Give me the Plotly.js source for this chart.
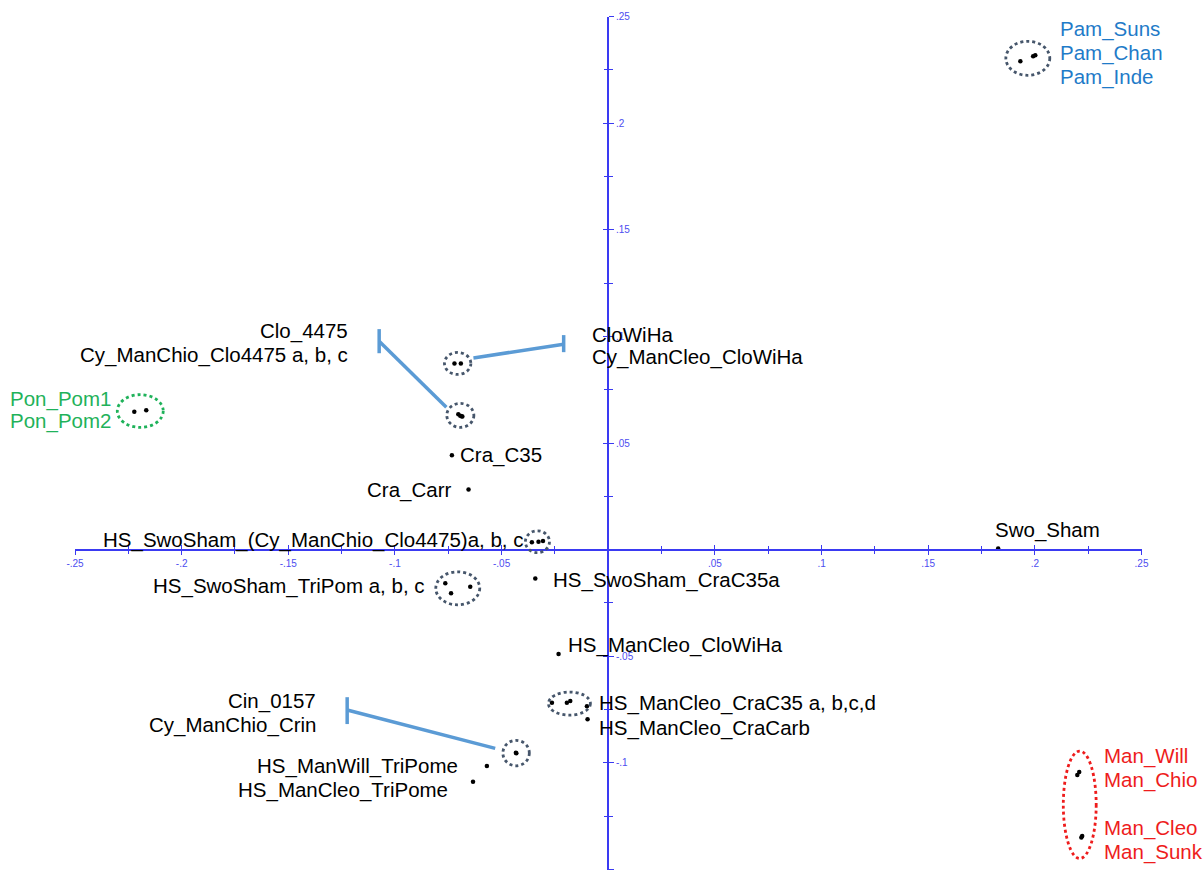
<!DOCTYPE html>
<html>
<head>
<meta charset="utf-8">
<script src="https://cdn.plot.ly/plotly-3.0.1.min.js"></script>
<style>html,body{margin:0;padding:0;background:#fff;}#chart{width:1204px;height:873px;}</style>
</head>
<body>
<div id="chart"></div>
<script>
// ---------- data ----------
const pointNames = [
  "Pam_Suns","Pam_Chan","Pam_Inde",
  "Pon_Pom1","Pon_Pom2",
  "CloWiHa","Cy_ManCleo_CloWiHa",
  "Clo_4475","Cy_ManChio_Clo4475 a","Cy_ManChio_Clo4475 b","Cy_ManChio_Clo4475 c",
  "Cra_C35","Cra_Carr","Swo_Sham",
  "HS_SwoSham_(Cy_ManChio_Clo4475)a","HS_SwoSham_(Cy_ManChio_Clo4475)b","HS_SwoSham_(Cy_ManChio_Clo4475)c",
  "HS_SwoSham_TriPom a","HS_SwoSham_TriPom b","HS_SwoSham_TriPom c",
  "HS_SwoSham_CraC35a","HS_ManCleo_CloWiHa",
  "HS_ManCleo_CraC35 a","HS_ManCleo_CraC35 b","HS_ManCleo_CraC35 c","HS_ManCleo_CraC35 d",
  "HS_ManCleo_CraCarb","Cin_0157","Cy_ManChio_Crin",
  "HS_ManWill_TriPome","HS_ManCleo_TriPome",
  "Man_Will","Man_Chio","Man_Cleo","Man_Sunk"
];
const pointX = [
  0.1932, 0.2002, 0.1992,
  -0.2222, -0.2166,
  -0.0721, -0.0691,
  -0.0703, -0.0694, -0.0688, -0.0684,
  -0.0733, -0.0655, 0.1828,
  -0.0358, -0.0327, -0.0306,
  -0.0764, -0.0737, -0.0647,
  -0.0342, -0.0233,
  -0.0264, -0.0194, -0.0178, -0.0100,
  -0.0097, -0.0433, -0.0431,
  -0.0569, -0.0634,
  0.2208, 0.2199, 0.2222, 0.2218
];
const pointY = [
  0.2290, 0.2318, 0.2314,
  0.0646, 0.0654,
  0.0873, 0.0873,
  0.0635, 0.0628, 0.0626, 0.0624,
  0.0443, 0.0282, 0.0005,
  0.0034, 0.0037, 0.0040,
  -0.0158, -0.0205, -0.0174,
  -0.0135, -0.0490,
  -0.0718, -0.0718, -0.0710, -0.0734,
  -0.0796, -0.0953, -0.0955,
  -0.1015, -0.1089,
  -0.1043, -0.1057, -0.1343, -0.1350
];

// groups circled with dotted ellipses (indices into the point arrays)
const groupMembers = [[0,1,2],[3,4],[5,6],[7,8,9,10],[14,15,16],[17,18,19],[22,23,24,25],[27,28],[31,32,33,34]];

// labels
const labelText = [
  "Pam_Suns","Pam_Chan","Pam_Inde",
  "Clo_4475","Cy_ManChio_Clo4475 a, b, c",
  "CloWiHa","Cy_ManCleo_CloWiHa",
  "Pon_Pom1","Pon_Pom2",
  "Cra_C35","Cra_Carr",
  "HS_SwoSham_(Cy_ManChio_Clo4475)a, b, c","Swo_Sham",
  "HS_SwoSham_TriPom a, b, c","HS_SwoSham_CraC35a",
  "HS_ManCleo_CloWiHa","HS_ManCleo_CraC35 a, b,c,d","HS_ManCleo_CraCarb",
  "Cin_0157","Cy_ManChio_Crin",
  "HS_ManWill_TriPome","HS_ManCleo_TriPome",
  "Man_Will","Man_Chio","Man_Cleo","Man_Sunk"
];
const labelX = [
  0.2110, 0.2110, 0.2110,
  -0.1210, -0.1210,
  -0.0084, -0.0084,
  -0.2321, -0.2321,
  -0.0703, -0.0727,
  -0.0389, 0.1805,
  -0.0849, -0.0267,
  -0.0197, -0.0052, -0.0052,
  -0.1360, -0.1360,
  -0.0694, -0.0741,
  0.2316, 0.2316, 0.2316, 0.2316
];
const labelY = [
  0.2440, 0.2328, 0.2215,
  0.1024, 0.0912,
  0.1010, 0.0902,
  0.0706, 0.0602,
  0.0443, 0.0279,
  0.0045, 0.0091,
  -0.0171, -0.0143,
  -0.0448, -0.0720, -0.0837,
  -0.0710, -0.0823,
  -0.1015, -0.1128,
  -0.0968, -0.1081, -0.1306, -0.1418
];
const labelGrow = ["r","r","r","l","l","r","r","l","l","r","l","l","r","l","r","r","r","r","l","l","l","l","r","r","r","r"];
const labelGroup = ["pam","pam","pam","k","k","k","k","pon","pon","k","k","k","k","k","k","k","k","k","k","k","k","k","man","man","man","man"];

// leader lines (start near cluster, end at bar) and T-bars
const leaderX0 = [-0.0632, -0.0759, -0.0530];
const leaderY0 = [0.0899, 0.0668, -0.0932];
const leaderX1 = [-0.0209, -0.1074, -0.1224];
const leaderY1 = [0.0963, 0.0977, -0.0752];
const barTop    = [0.1006, 0.1034, -0.0692];
const barBottom = [0.0926, 0.0921, -0.0818];

// axis ticks
const xTickVals = [-0.25,-0.2,-0.15,-0.1,-0.05,0.05,0.1,0.15,0.2,0.25];
const xTickText = ["-.25","-.2","-.15","-.1","-.05",".05",".1",".15",".2",".25"];
const yTickVals = [-0.15,-0.1,-0.05,0.05,0.1,0.15,0.2,0.25];
const yTickText = ["-.15","-.1","-.05",".05",".1",".15",".2",".25"];
const xRange = [-0.25, 0.25];
const yRange = [-0.15, 0.25];

// ---------- styles ----------
const W = 1204, H = 873;
const axisBlue = "#3a3af2";
const tickBlue = "#4d4df0";
const colors = {k:"#000000", pam:"#1f7bc8", pon:"#1fb25a", man:"#ee1c1c"};
const groupColor = ["#46566b","#1fb25a","#46566b","#46566b","#46566b","#46566b","#46566b","#46566b","#ee1c1c"];
const groupPadPx = [[14.5,14],[17,15.5],[10,11],[11.5,10.8],[6.5,10.3],[9.5,11.5],[3.5,9],[13,12.5],[14,21]];
const leaderColor = "#5b9bd5";

const xDom = [75/W, 1141.5/W];
const yDom = [(H-869.5)/H, (H-16.5)/H];
const pxPerX = (xDom[1]-xDom[0])*W/(xRange[1]-xRange[0]);
const pxPerY = (yDom[1]-yDom[0])*H/(yRange[1]-yRange[0]);
const xAxisPos = yDom[0] + (0-yRange[0])/(yRange[1]-yRange[0])*(yDom[1]-yDom[0]);
const yAxisPos = xDom[0] + (0-xRange[0])/(xRange[1]-xRange[0])*(xDom[1]-xDom[0]);

// ---------- traces ----------
const traces = [];
for (let i=0;i<leaderX0.length;i++){
  traces.push({x:[leaderX0[i],leaderX1[i]], y:[leaderY0[i],leaderY1[i]], mode:"lines",
    line:{color:leaderColor,width:3.5}, hoverinfo:"skip", cliponaxis:false});
  traces.push({x:[leaderX1[i],leaderX1[i]], y:[barTop[i],barBottom[i]], mode:"lines",
    line:{color:leaderColor,width:3.5}, hoverinfo:"skip", cliponaxis:false});
}
traces.push({x:pointX, y:pointY, text:pointNames, mode:"markers", type:"scatter",
  marker:{color:"#000",size:4.5}, hoverinfo:"text", cliponaxis:false});
traces.push({x:[0], y:[0], xaxis:"x2", yaxis:"y2", mode:"markers", marker:{opacity:0}, hoverinfo:"skip"});

// ---------- ellipses ----------
const shapes = groupMembers.map((m,g)=>{
  const xs = m.map(i=>pointX[i]), ys = m.map(i=>pointY[i]);
  const cx = (Math.min(...xs)+Math.max(...xs))/2, cy = (Math.min(...ys)+Math.max(...ys))/2;
  const rx = (Math.max(...xs)-Math.min(...xs))/2 + groupPadPx[g][0]/pxPerX;
  const ry = (Math.max(...ys)-Math.min(...ys))/2 + groupPadPx[g][1]/pxPerY;
  return {type:"circle", xref:"x", yref:"y", x0:cx-rx, x1:cx+rx, y0:cy-ry, y1:cy+ry,
    line:{color:groupColor[g], width:2.8, dash:"dot"}, layer:"above"};
});

// ---------- labels ----------
const annotations = labelText.map((t,i)=>({
  x:labelX[i], y:labelY[i], xref:"x", yref:"y", text:t, showarrow:false,
  xanchor: labelGrow[i]==="r" ? "left" : "right", yanchor:"middle",
  font:{family:"Liberation Sans, Arial, sans-serif", size:20.5, color:colors[labelGroup[i]]}
}));

const axCommon = {showgrid:false, zeroline:false, fixedrange:true};
const tickFont = {family:"Liberation Sans, Arial, sans-serif", size:10, color:tickBlue};
const layout = {
  width:W, height:H, margin:{l:0,r:0,t:0,b:0},
  paper_bgcolor:"#fff", plot_bgcolor:"#fff", showlegend:false, hovermode:"closest",
  xaxis:Object.assign({}, axCommon, {domain:xDom, range:xRange, anchor:"free", position:xAxisPos,
    showline:true, linecolor:axisBlue, linewidth:1.5,
    tickmode:"array", tickvals:xTickVals, ticktext:xTickText, ticks:"outside", ticklen:5, tickcolor:axisBlue, tickwidth:1.3,
    tickfont:tickFont,
    minor:{tickmode:"linear", tick0:0, dtick:0.025, ticks:"outside", ticklen:4, tickcolor:axisBlue, tickwidth:1.2}}),
  yaxis:Object.assign({}, axCommon, {domain:yDom, range:yRange, anchor:"free", position:yAxisPos, side:"right",
    showline:true, linecolor:axisBlue, linewidth:1.5,
    tickmode:"array", tickvals:yTickVals, ticktext:yTickText, ticks:"outside", ticklen:5, tickcolor:axisBlue, tickwidth:1.3,
    tickfont:tickFont,
    minor:{tickmode:"linear", tick0:0, dtick:0.025, ticks:"outside", ticklen:4, tickcolor:axisBlue, tickwidth:1.2}}),
  xaxis2:Object.assign({}, axCommon, {overlaying:"x", range:xRange, anchor:"free", position:xAxisPos,
    showline:false, showticklabels:false, tickmode:"array", tickvals:xTickVals, ticks:"inside", ticklen:5, tickcolor:axisBlue, tickwidth:1.3,
    minor:{tickmode:"linear", tick0:0, dtick:0.025, ticks:"inside", ticklen:4, tickcolor:axisBlue, tickwidth:1.2}}),
  yaxis2:Object.assign({}, axCommon, {overlaying:"y", range:yRange, anchor:"free", position:yAxisPos, side:"right",
    showline:false, showticklabels:false, tickmode:"array", tickvals:yTickVals, ticks:"inside", ticklen:5, tickcolor:axisBlue, tickwidth:1.3,
    minor:{tickmode:"linear", tick0:0, dtick:0.025, ticks:"inside", ticklen:4, tickcolor:axisBlue, tickwidth:1.2}}),
  shapes:shapes, annotations:annotations
};

Plotly.newPlot("chart", traces, layout, {displayModeBar:false});
</script>
</body>
</html>
